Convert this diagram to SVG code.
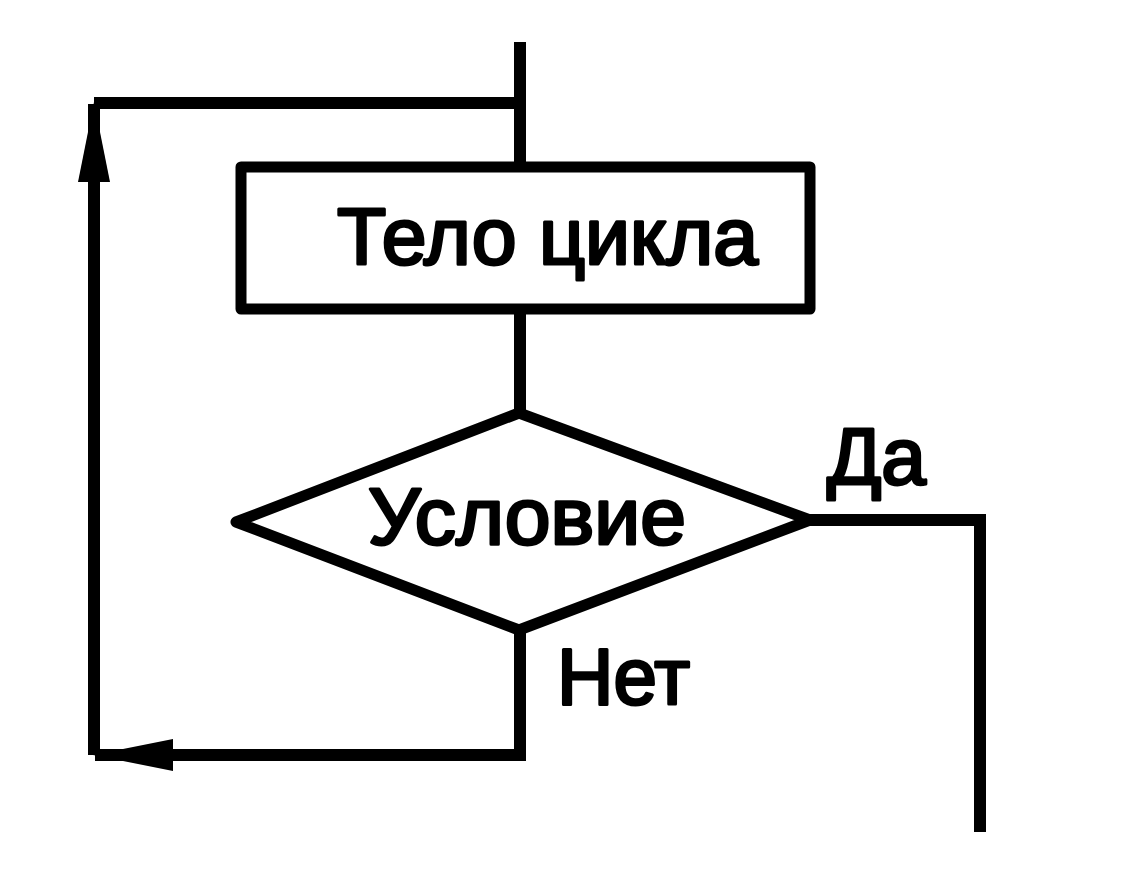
<svg xmlns="http://www.w3.org/2000/svg" width="1135" height="889" viewBox="0 0 1135 889">
<defs>
<style>
.ln{fill:none;stroke:#000;stroke-width:12;stroke-linejoin:miter;stroke-linecap:butt}
.shape{fill:#fff;stroke:#000;stroke-width:11;stroke-linejoin:round}
.t{font-family:"Liberation Sans",Arial,sans-serif;font-size:80px;fill:#000;stroke:#000;stroke-width:3;stroke-linejoin:round}
</style>
<marker id="arr" markerUnits="userSpaceOnUse" markerWidth="80" markerHeight="34" viewBox="0 0 80 34" refX="78" refY="17" orient="auto">
<polygon points="0,1 80,17 0,33" fill="#000"/>
</marker>
</defs>
<rect width="1135" height="889" fill="#fff"/>
<g id="connectors">
<path class="ln" d="M520,42 V168"/>
<path class="ln" d="M520,103 H94"/>
<path class="ln" d="M94,755 V104" marker-end="url(#arr)"/>
<path class="ln" d="M520,628 V755 H95" marker-end="url(#arr)"/>
<path class="ln" d="M520,310 V412"/>
<path class="ln" d="M808,520 H980 V832"/>
</g>
<g id="body">
<rect class="shape" x="241" y="167" width="569" height="142"/>
<text class="t" x="337" y="264" textLength="421" lengthAdjust="spacingAndGlyphs">Тело цикла</text>
</g>
<g id="condition">
<polygon class="shape" points="519,413 236,522 519,630 810,520"/>
<text class="t" x="368" y="544" textLength="318" lengthAdjust="spacingAndGlyphs">Условие</text>
</g>
<g id="label-yes">
<text class="t" x="827" y="484" textLength="99" lengthAdjust="spacingAndGlyphs">Да</text>
</g>
<g id="label-no">
<text class="t" x="557" y="704" textLength="133" lengthAdjust="spacingAndGlyphs">Нет</text>
</g>
</svg>
